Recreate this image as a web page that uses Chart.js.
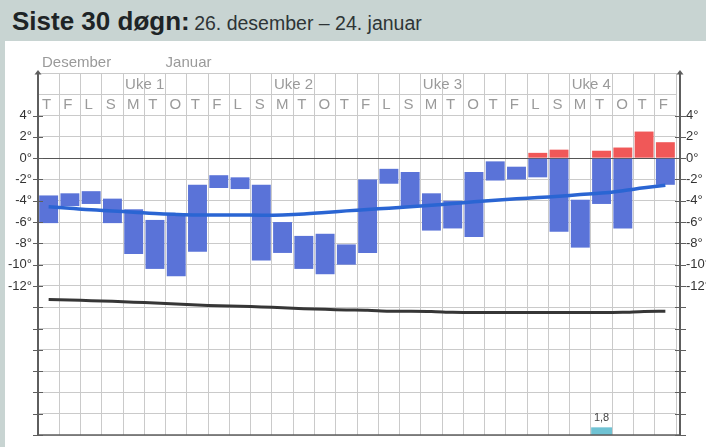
<!DOCTYPE html>
<html>
<head>
<meta charset="utf-8">
<script src="https://cdn.jsdelivr.net/npm/chart.js"></script>
<style>
html,body{margin:0;padding:0;background:#fff;}
#wrap{position:relative;width:706px;height:447px;overflow:hidden;background:#fff;font-family:"Liberation Sans",Arial,sans-serif;}
#head{position:absolute;left:0;top:0;width:706px;height:41px;background:#c8d4d2;z-index:2;}
#strip{position:absolute;left:0;top:0;width:5px;height:447px;background:#c8d4d2;z-index:2;}
#title{position:absolute;left:12px;top:8px;white-space:nowrap;line-height:26px;color:#1e2426;}
#title b{font-size:26px;font-weight:bold;}
#title span{font-size:19.5px;color:#2e3436;}
#c{position:absolute;left:0;top:0;z-index:1;}
</style>
</head>
<body>
<div id="wrap">
  <div id="head"><div id="title"><b>Siste 30 døgn:</b> <span>26. desember – 24. januar</span></div></div>
  <div id="strip"></div>
  <canvas id="c" width="706" height="447"></canvas>
</div>
<script>
// ---- data ----
const dates = ['26.12','27.12','28.12','29.12','30.12','31.12','01.01','02.01','03.01','04.01',
               '05.01','06.01','07.01','08.01','09.01','10.01','11.01','12.01','13.01','14.01',
               '15.01','16.01','17.01','18.01','19.01','20.01','21.01','22.01','23.01','24.01'];
const days = ['T','F','L','S','M','T','O','T','F','L','S','M','T','O','T','F','L','S','M','T','O','T','F','L','S','M','T','O','T','F'];
const monthNames = ['Desember','Januar'];
const monthStarts = [0,6];
const weekNames = ['Uke 1','Uke 2','Uke 3','Uke 4'];
const weekStarts = [4,11,18,25];
const tempMin = [-6.1,-4.5,-4.3,-6.1,-9.0,-10.4,-11.1,-8.8,-2.8,-2.9,-9.6,-8.9,-10.4,-10.9,-10.0,-8.9,-2.4,-4.5,-6.8,-6.6,-7.4,-2.1,-2.0,-1.8,-6.9,-8.4,-4.3,-6.6,0.0,-2.5];
const tempMax = [-3.5,-3.3,-3.1,-3.8,-4.8,-5.8,-5.2,-2.5,-1.6,-1.8,-2.5,-6.0,-7.3,-7.1,-8.1,-2.0,-1.0,-1.3,-3.3,-4.0,-1.3,-0.3,-0.8,0.5,0.8,-3.9,0.7,1.0,2.5,1.5];
const normalTemp = [-4.56,-4.7,-4.85,-4.95,-5.07,-5.2,-5.28,-5.33,-5.33,-5.33,-5.35,-5.33,-5.25,-5.1,-4.95,-4.82,-4.7,-4.57,-4.42,-4.26,-4.1,-3.95,-3.82,-3.7,-3.57,-3.42,-3.28,-3.05,-2.78,-2.54];
const darkLine = [-13.28,-13.32,-13.38,-13.44,-13.53,-13.6,-13.7,-13.8,-13.86,-13.9,-13.97,-14.05,-14.14,-14.2,-14.25,-14.28,-14.38,-14.38,-14.4,-14.47,-14.5,-14.5,-14.5,-14.5,-14.5,-14.5,-14.5,-14.47,-14.4,-14.38];
const precip = [null,null,null,null,null,null,null,null,null,null,null,null,null,null,null,null,null,null,null,null,null,null,null,null,null,null,1.8,null,null,null];
const tempAxisMin = -26, tempAxisMax = 8, tempStep = 2;
const labelMin = -12, labelMax = 4;
const precipAxisMax = 85;

// ---- derived for library ----
const blueBars = tempMin.map((lo,i) => lo < 0 ? [lo, Math.min(tempMax[i], 0)] : null);
const redBars = tempMax.map((hi,i) => hi > 0 ? [Math.max(tempMin[i], 0), hi] : null);

const FONT = '"Liberation Sans", Arial, sans-serif';
const AXIS = '#5e5e5e';

const overlay = {
  id: 'overlay',
  afterDraw(chart) {
    const {ctx, chartArea: ca, scales} = chart;
    const x = scales.x, y = scales.y;
    const colW = (ca.right - ca.left) / days.length;
    const colStart = i => x.getPixelForValue(i) - colW / 2;
    ctx.save();
    ctx.fillStyle = '#9a9a9a';
    ctx.font = '15px ' + FONT;
    ctx.textBaseline = 'middle';
    ctx.textAlign = 'left';
    monthStarts.forEach((s,k) => ctx.fillText(monthNames[k], colStart(s) + (k === 0 ? 4 : 0), ca.top - 10));
    const wy = (y.getPixelForValue(8) + y.getPixelForValue(6)) / 2 + 1.5;
    weekStarts.forEach((s,k) => ctx.fillText(weekNames[k], colStart(s) + 2, wy));
    const dy = (y.getPixelForValue(6) + y.getPixelForValue(4)) / 2;
    days.forEach((d,i) => ctx.fillText(d, colStart(i) + 4, dy));
    // axes
    const rx = ca.right + 4;
    ctx.strokeStyle = AXIS;
    ctx.fillStyle = AXIS;
    ctx.lineWidth = 2;
    ctx.beginPath();
    ctx.moveTo(ca.left, ca.top - 1); ctx.lineTo(ca.left, ca.bottom);
    ctx.moveTo(rx, ca.top - 1); ctx.lineTo(rx, ca.bottom);
    ctx.stroke();
    ctx.lineWidth = 1.5;
    ctx.beginPath();
    ctx.moveTo(ca.left, ca.bottom); ctx.lineTo(rx, ca.bottom);
    ctx.stroke();
    [ca.left, rx].forEach(ax => {
      ctx.beginPath();
      ctx.moveTo(ax - 3.5, ca.top + 1.5);
      ctx.lineTo(ax + 3.5, ca.top + 1.5);
      ctx.lineTo(ax, ca.top - 3);
      ctx.closePath();
      ctx.fill();
    });
    ctx.lineWidth = 1;
    y.ticks.forEach(t => {
      if (t.value > labelMax) return;
      const py = Math.round(y.getPixelForValue(t.value)) + 0.5;
      ctx.beginPath();
      ctx.moveTo(ca.left - 5, py); ctx.lineTo(ca.left + 5, py);
      ctx.moveTo(rx - 5, py); ctx.lineTo(rx + 6, py);
      ctx.stroke();
    });
    // precipitation value labels
    const meta = chart.getDatasetMeta(4);
    ctx.fillStyle = '#444';
    ctx.font = '11px ' + FONT;
    ctx.textAlign = 'center';
    ctx.textBaseline = 'alphabetic';
    precip.forEach((v,i) => {
      if (v == null) return;
      const el = meta.data[i];
      ctx.fillText(String(v).replace('.', ','), el.x, el.y - 6);
    });
    ctx.restore();
  }
};

const tickCb = v => (v >= labelMin && v <= labelMax) ? v + '°' : '';

new Chart(document.getElementById('c'), {
  type: 'bar',
  data: {
    labels: dates,
    datasets: [
      { type: 'line', data: normalTemp, borderColor: '#2a65d3', borderWidth: 3.5, pointRadius: 0, tension: 0.4, yAxisID: 'y', order: 0 },
      { type: 'line', data: darkLine, borderColor: '#363636', borderWidth: 3, pointRadius: 0, tension: 0.3, yAxisID: 'y', order: 0 },
      { data: blueBars, backgroundColor: '#5a73d8', grouped: false, barPercentage: 1, categoryPercentage: 0.89, yAxisID: 'y', order: 1 },
      { data: redBars, backgroundColor: '#f05858', grouped: false, barPercentage: 1, categoryPercentage: 0.89, yAxisID: 'y', order: 1 },
      { data: precip, backgroundColor: '#6fc2d3', grouped: false, barPercentage: 1, categoryPercentage: 0.98, yAxisID: 'y2', order: 1 }
    ]
  },
  options: {
    responsive: false,
    animation: false,
    devicePixelRatio: 1,
    layout: { padding: { top: 73, bottom: 12, left: 0, right: 0 } },
    plugins: { legend: { display: false }, tooltip: { enabled: false }, title: { display: false } },
    scales: {
      x: {
        type: 'category',
        offset: true,
        grid: { color: '#cacaca', offset: true, drawTicks: false, lineWidth: 1 },
        border: { display: false },
        ticks: { display: false },
        afterFit: s => { s.height = 0; }
      },
      y: {
        position: 'left',
        min: tempAxisMin, max: tempAxisMax,
        ticks: { stepSize: tempStep, callback: tickCb, color: '#333', font: { size: 13, family: FONT }, padding: 1, autoSkip: false },
        grid: { color: c => c.tick && c.tick.value === 0 ? '#555' : '#cacaca', drawTicks: true, tickLength: 5, tickColor: 'rgba(0,0,0,0)', lineWidth: 1 },
        border: { display: false },
        afterFit: s => { s.width = 38; }
      },
      y1: {
        position: 'right',
        min: tempAxisMin, max: tempAxisMax,
        ticks: { stepSize: tempStep, callback: tickCb, color: '#333', font: { size: 13, family: FONT }, padding: 2, autoSkip: false },
        grid: { drawOnChartArea: false, drawTicks: true, tickLength: 8, tickColor: 'rgba(0,0,0,0)' },
        border: { display: false },
        afterFit: s => { s.width = 30; }
      },
      y2: { display: false, min: 0, max: precipAxisMax }
    }
  },
  plugins: [overlay]
});
</script>
</body>
</html>
